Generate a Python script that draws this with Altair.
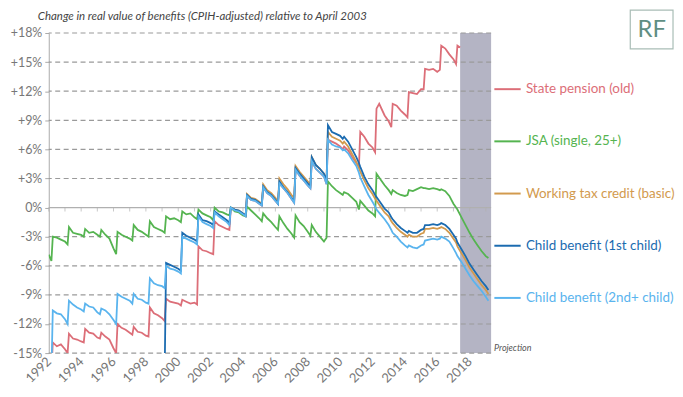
import altair as alt
import pandas as pd

series_names = ["State pension (old)", "JSA (single, 25+)", "Working tax credit (basic)",
                "Child benefit (1st child)", "Child benefit (2nd+ child)"]
series_colors = ["#dc6e78", "#55b450", "#d29a4e", "#1b6bb0", "#5ab4ee"]

pension_dates = ["1992-03", "1992-04", "1992-07", "1992-10", "1993-01", "1993-03",
                 "1993-04", "1993-07", "1993-10", "1994-01", "1994-03",
                 "1994-04", "1994-07", "1994-10", "1995-01", "1995-03",
                 "1995-04", "1995-07", "1995-10", "1996-01", "1996-03",
                 "1996-04", "1996-07", "1996-10", "1997-01", "1997-03",
                 "1997-04", "1997-07", "1997-10", "1998-01", "1998-03",
                 "1998-04", "1998-07", "1998-10", "1999-01", "1999-03",
                 "1999-04", "1999-07", "1999-10", "2000-01", "2000-03",
                 "2000-04", "2000-07", "2000-10", "2001-01", "2001-03",
                 "2001-04", "2001-07", "2001-10", "2002-01", "2002-03",
                 "2002-04", "2002-07", "2002-10", "2003-01", "2003-03",
                 "2003-04", "2003-07", "2003-10", "2004-01", "2004-03",
                 "2004-04", "2004-07", "2004-10", "2005-01", "2005-03",
                 "2005-04", "2005-07", "2005-10", "2006-01", "2006-03",
                 "2006-04", "2006-07", "2006-10", "2007-01", "2007-03",
                 "2007-04", "2007-07", "2007-10", "2008-01", "2008-03",
                 "2008-04", "2008-07", "2008-10", "2009-01", "2009-03",
                 "2009-04", "2009-07", "2009-10", "2010-01", "2010-03",
                 "2010-04", "2010-07", "2010-10", "2011-01", "2011-03",
                 "2011-04", "2011-07", "2011-10", "2012-01", "2012-03",
                 "2012-04", "2012-06", "2012-10", "2013-01", "2013-03",
                 "2013-04", "2013-07", "2013-10", "2014-01", "2014-03",
                 "2014-04", "2014-07", "2014-10", "2015-01", "2015-03",
                 "2015-04", "2015-07", "2015-10", "2016-01", "2016-03",
                 "2016-04", "2016-07", "2016-10", "2017-01", "2017-03",
                 "2017-04", "2017-06"]
pension_values = [-17.0, -13.9, -14.3, -14.1, -14.6, -15.0,
                  -13.0, -13.5, -13.6, -13.8, -13.9,
                  -12.5, -12.9, -13.0, -13.4, -13.5,
                  -12.9, -13.3, -13.6, -14.5, -15.0,
                  -12.0, -12.4, -12.6, -12.9, -13.1,
                  -12.3, -12.8, -12.9, -13.2, -13.3,
                  -10.3, -10.9, -11.1, -11.4, -11.7,
                  -9.4, -9.7, -9.8, -9.9, -10.1,
                  -9.5, -9.7, -9.9, -9.8, -10.0,
                  -4.0, -4.4, -4.5, -4.7, -4.8,
                  -1.4, -1.8, -2.0, -2.2, -2.3,
                  0.0, -0.3, -0.4, -0.7, -0.9,
                  1.2, 0.8, 0.7, 0.4, 0.2,
                  2.1, 1.5, 1.2, 0.7, 0.4,
                  2.5, 2.0, 1.5, 0.9, 0.5,
                  3.9, 3.3, 2.8, 2.3, 2.0,
                  4.8, 4.0, 3.6, 3.2, 2.4,
                  7.0, 6.8, 6.6, 6.3, 6.0,
                  6.3, 5.9, 5.2, 4.6, 4.2,
                  7.8, 7.3, 6.6, 6.2, 5.7,
                  10.2, 10.7, 9.5, 8.9, 8.3,
                  10.7, 10.5, 10.0, 9.6, 9.3,
                  11.9, 11.8, 11.7, 12.2, 12.2,
                  14.3, 14.2, 14.3, 14.0, 14.2,
                  16.7, 16.4, 15.8, 15.3, 14.8,
                  16.7, 16.5]

jsa_dates = ["1992-01", "1992-03",
             "1992-04", "1992-07", "1992-10", "1993-01", "1993-03",
             "1993-04", "1993-07", "1993-10", "1994-01", "1994-03",
             "1994-04", "1994-07", "1994-10", "1995-01", "1995-03",
             "1995-04", "1995-07", "1995-10", "1996-01", "1996-03",
             "1996-04", "1996-07", "1996-10", "1997-01", "1997-03",
             "1997-04", "1997-07", "1997-10", "1998-01", "1998-03",
             "1998-04", "1998-07", "1998-10", "1999-01", "1999-03",
             "1999-04", "1999-07", "1999-10", "2000-01", "2000-03",
             "2000-04", "2000-07", "2000-10", "2001-01", "2001-03",
             "2001-04", "2001-07", "2001-10", "2002-01", "2002-03",
             "2002-04", "2002-07", "2002-10", "2003-01", "2003-03",
             "2003-04", "2003-07", "2003-10", "2004-01", "2004-03",
             "2004-04", "2004-07", "2004-10", "2005-01", "2005-03",
             "2005-04", "2005-07", "2005-10", "2006-01", "2006-03",
             "2006-04", "2006-07", "2006-10", "2007-01", "2007-03",
             "2007-04", "2007-07", "2007-10", "2008-01", "2008-03",
             "2008-04", "2008-07", "2008-10", "2009-01", "2009-03",
             "2009-04", "2009-07", "2009-10", "2010-01", "2010-03",
             "2010-04", "2010-07", "2010-10", "2011-01", "2011-03",
             "2011-04", "2011-07", "2011-10", "2012-01", "2012-03",
             "2012-04", "2012-07", "2012-10", "2013-01", "2013-03",
             "2013-04", "2013-07", "2013-10", "2014-01", "2014-03",
             "2014-04", "2014-07", "2014-10", "2015-01", "2015-03",
             "2015-04", "2015-07", "2015-10", "2016-01", "2016-03",
             "2016-04", "2016-07", "2016-10", "2017-01", "2017-03",
             "2017-04", "2017-07", "2017-10", "2018-01", "2018-04",
             "2018-07", "2018-10", "2019-01", "2019-03"]
jsa_values = [-4.85, -5.5,
              -3.0, -3.1, -3.3, -3.5, -3.8,
              -2.0, -2.6, -2.7, -2.8, -3.0,
              -2.2, -2.6, -2.5, -2.8, -3.0,
              -2.3, -2.8, -3.2, -4.2, -4.8,
              -2.5, -2.8, -3.0, -3.2, -3.4,
              -1.8, -2.3, -2.5, -2.8, -3.0,
              -1.4, -2.0, -2.2, -2.4, -2.6,
              -0.9, -1.2, -1.1, -1.3, -1.5,
              -0.4, -0.7, -0.6, -1.0, -1.2,
              -0.2, -0.6, -0.8, -1.0, -1.3,
              0.0, -0.4, -0.5, -0.7, -0.8,
              0.0, -0.4, -0.5, -0.8, -0.9,
              0.1, -0.3, -0.7, -1.1, -1.4,
              -0.6, -1.1, -1.5, -2.0, -2.3,
              -0.9, -1.6, -2.2, -2.7, -3.1,
              -0.8, -1.5, -1.9, -2.5, -2.9,
              -1.8, -2.5, -3.0, -3.5, -3.1,
              2.7, 2.2, 1.8, 1.5, 1.3,
              1.6, 1.4, 1.0, 0.6, -0.2,
              0.7, 0.2, -0.3, -0.6, -0.9,
              3.5, 2.9, 2.3, 1.8, 1.4,
              1.8, 1.5, 1.3, 1.2, 1.3,
              1.8, 1.7, 1.9, 2.1, 2.0,
              2.0, 1.9, 2.0, 1.9, 1.8,
              1.9, 1.7, 1.2, 0.4, 0.0,
              -0.2, -1.0, -1.8, -2.6, -3.3,
              -3.9, -4.5, -5.0, -5.2]

wtc_dates = ["2003-04", "2003-07", "2003-10", "2004-01", "2004-03",
             "2004-04", "2004-07", "2004-10", "2005-01", "2005-03",
             "2005-04", "2005-07", "2005-10", "2006-01", "2006-03",
             "2006-04", "2006-07", "2006-10", "2007-01", "2007-03",
             "2007-04", "2007-07", "2007-10", "2008-01", "2008-03",
             "2008-04", "2008-07", "2008-10", "2009-01", "2009-03",
             "2009-04", "2009-07", "2009-10", "2010-01", "2010-03",
             "2010-04", "2010-07", "2010-10", "2011-01", "2011-03",
             "2011-04", "2011-07", "2011-10", "2012-01", "2012-03",
             "2012-04", "2012-07", "2012-10", "2013-01", "2013-03",
             "2013-04", "2013-07", "2013-10", "2014-01", "2014-03",
             "2014-04", "2014-07", "2014-10", "2015-01", "2015-03",
             "2015-04", "2015-07", "2015-10", "2016-01", "2016-03",
             "2016-04", "2016-07", "2016-10", "2017-01", "2017-03",
             "2017-04", "2017-07", "2017-10", "2018-01", "2018-04",
             "2018-07", "2018-10", "2019-01", "2019-03"]
wtc_values = [0.0, -0.2, -0.3, -0.6, -0.8,
              1.4, 1.0, 0.9, 0.6, 0.4,
              2.4, 1.8, 1.5, 1.0, 0.6,
              3.0, 2.4, 1.9, 1.3, 1.0,
              4.3, 3.7, 3.2, 2.7, 2.4,
              5.2, 4.4, 4.0, 3.5, 2.8,
              7.8, 7.3, 7.1, 6.9, 6.6,
              6.8, 6.3, 5.5, 4.7, 4.1,
              3.7, 2.8, 2.0, 1.4, 0.9,
              0.7, 0.1, -0.5, -0.9, -1.4,
              -1.6, -2.1, -2.5, -2.8, -3.0,
              -2.8, -3.0, -3.0, -2.7, -2.6,
              -2.2, -2.2, -2.1, -2.2, -2.1,
              -2.0, -2.2, -2.6, -3.2, -3.6,
              -4.0, -4.7, -5.4, -6.2, -6.8,
              -7.4, -8.0, -8.5, -8.9]

cb1_dates = ["1999-03",
             "1999-04", "1999-07", "1999-10", "2000-01", "2000-03",
             "2000-04", "2000-07", "2000-10", "2001-01", "2001-03",
             "2001-04", "2001-07", "2001-10", "2002-01", "2002-03",
             "2002-04", "2002-07", "2002-10", "2003-01", "2003-03"] + wtc_dates
cb1_values = [-17.0,
              -5.7, -5.9, -6.1, -6.3, -6.5,
              -2.6, -2.9, -3.1, -3.3, -3.5,
              -0.7, -1.3, -1.4, -1.6, -1.8,
              -0.4, -0.7, -1.0, -1.3, -1.6,
              0.0, -0.2, -0.3, -0.6, -0.8,
              1.3, 0.9, 0.8, 0.5, 0.3,
              2.2, 1.6, 1.3, 0.8, 0.4,
              2.7, 2.1, 1.6, 1.0, 0.7,
              4.1, 3.5, 3.0, 2.5, 2.2,
              5.2, 4.4, 4.0, 3.5, 2.8,
              8.5, 7.8, 7.6, 7.4, 7.1,
              7.3, 6.8, 6.0, 5.2, 4.6,
              4.2, 3.2, 2.4, 1.8, 1.3,
              1.1, 0.5, -0.1, -0.5, -1.0,
              -1.2, -1.7, -2.1, -2.4, -2.6,
              -2.4, -2.6, -2.6, -2.3, -2.2,
              -1.8, -1.8, -1.7, -1.8, -1.7,
              -1.6, -1.8, -2.2, -2.8, -3.2,
              -3.6, -4.3, -5.0, -5.8, -6.4,
              -7.0, -7.6, -8.1, -8.5]

cb2_dates = ["1992-03"] + pension_dates[1:56] + wtc_dates
cb2_values = [-17.0,
              -10.6, -10.9, -11.0, -11.5, -12.0,
              -9.6, -10.0, -10.3, -10.5, -10.7,
              -9.9, -10.2, -10.3, -10.8, -11.0,
              -10.4, -10.6, -11.0, -11.6, -12.0,
              -8.9, -9.2, -9.4, -9.6, -9.9,
              -8.9, -9.4, -9.5, -9.8, -9.9,
              -7.3, -7.8, -8.0, -8.1, -8.3,
              -6.0, -6.3, -6.4, -6.6, -6.8,
              -3.0, -3.2, -3.4, -3.6, -3.8,
              -0.9, -1.5, -1.7, -1.9, -2.1,
              -0.5, -0.9, -1.2, -1.5, -1.8,
              0.0, -0.3, -0.4, -0.7, -0.9,
              1.2, 0.8, 0.7, 0.4, 0.2,
              2.1, 1.5, 1.2, 0.7, 0.4,
              2.5, 2.0, 1.5, 0.9, 0.5,
              3.9, 3.3, 2.8, 2.3, 2.0,
              4.8, 4.0, 3.6, 3.2, 2.4,
              7.0, 6.5, 6.3, 6.2, 5.9,
              6.0, 5.6, 4.9, 4.3, 3.6,
              3.1, 2.2, 1.3, 0.6, 0.1,
              -0.2, -0.7, -1.2, -1.8, -2.3,
              -2.6, -3.0, -3.5, -3.9, -4.1,
              -3.9, -4.1, -4.2, -3.9, -3.8,
              -3.4, -3.3, -3.2, -3.3, -3.2,
              -3.0, -3.2, -3.5, -4.2, -4.7,
              -5.0, -5.6, -6.3, -7.0, -7.6,
              -8.1, -8.6, -9.2, -9.6]

y_ticks = [18, 15, 12, 9, 6, 3, 0, -3, -6, -9, -12, -15]
x_years = list(range(1992, 2020))
projection_start = "2017-06-01"
axis_end = "2019-05-01"
title_text = "Change in real value of benefits (CPIH-adjusted) relative to April 2003"

rows = []
for name, dates, vals in zip(series_names,
                             [pension_dates, jsa_dates, wtc_dates, cb1_dates, cb2_dates],
                             [pension_values, jsa_values, wtc_values, cb1_values, cb2_values]):
    assert len(dates) == len(vals), name
    for d, v in zip(dates, vals):
        rows.append({"series": name, "date": d + "-01", "value": v})
df = pd.DataFrame(rows)

W, H = 445, 322
FONT = "Lato"

x_scale = alt.Scale(domain=[alt.DateTime(year=1992, month=1, date=1),
                            alt.DateTime(year=2019, month=5, date=1)], nice=False)
y_scale = alt.Scale(domain=[-15, 18], nice=False)

x_axis = alt.Axis(title=None, values=[alt.DateTime(year=y, month=1, date=1) for y in x_years],
                  labelExpr="year(datum.value) % 2 == 0 ? timeFormat(datum.value, '%Y') : ''",
                  labelAngle=315, labelAlign="right", labelBaseline="middle",
                  labelOverlap=False, labelBound=False, labelFlush=False,
                  ticks=False, domain=False, grid=False, labelPadding=6,
                  labelFont=FONT, labelFontSize=13, labelColor="#777777")
y_axis = alt.Axis(title=None, values=y_ticks, grid=False, labelOverlap=False,
                  labelExpr="datum.value > 0 ? '+' + datum.value + '%' : datum.value + '%'",
                  domainColor="#aaaaaa", tickColor="#aaaaaa", tickSize=4,
                  labelFont=FONT, labelFontSize=12.5, labelColor="#777777", labelPadding=3)

label_expr = " : ".join(f"datum.label == '{n}' ? '{c}'" for n, c in zip(series_names[:-1], series_colors[:-1])) + f" : '{series_colors[-1]}'"

proj = alt.Chart(pd.DataFrame({"start": [projection_start], "end": [axis_end]})).mark_rect(
    color="#b4b4c4").encode(
    x=alt.X("start:T", scale=x_scale, axis=x_axis),
    x2="end:T",
    y=alt.value(0), y2=alt.value(H))

grid = alt.Chart(pd.DataFrame({"v": [t for t in y_ticks if t != 0]})).mark_rule(
    color="#9a9a9a", strokeDash=[5, 3.5], strokeWidth=1.2).encode(
    y=alt.Y("v:Q", scale=y_scale, axis=y_axis))

zero = alt.Chart(pd.DataFrame({"v": [0]})).mark_rule(color="#b0b0b0", strokeWidth=1.3).encode(
    y=alt.Y("v:Q", scale=y_scale, axis=y_axis))

year_ticks = alt.Chart(pd.DataFrame({"d": [f"{y}-01-01" for y in x_years], "v": [0] * len(x_years)})).mark_tick(
    orient="vertical", size=4, thickness=1, yOffset=2, color="#b0b0b0").encode(
    x=alt.X("d:T", scale=x_scale, axis=x_axis), y=alt.Y("v:Q", scale=y_scale, axis=y_axis))

lines = alt.Chart(df).mark_line(strokeWidth=1.8, clip=True).encode(
    x=alt.X("date:T", scale=x_scale, axis=x_axis),
    y=alt.Y("value:Q", scale=y_scale, axis=y_axis),
    color=alt.Color("series:N",
                    scale=alt.Scale(domain=series_names, range=series_colors),
                    legend=alt.Legend(title=None, orient="none", legendX=447, legendY=42,
                                      symbolType="stroke", symbolSize=700, symbolStrokeWidth=2,
                                      labelFont=FONT, labelFontSize=13.5, labelOffset=4,
                                      rowPadding=31.5, padding=0,
                                      labelColor=alt.ExprRef(expr=label_expr))),
    detail="series:N")

proj_text = alt.Chart(pd.DataFrame({"t": ["Projection"]})).mark_text(
    align="left", baseline="middle", font=FONT, fontSize=9, fontStyle="italic", color="#555555").encode(
    text="t:N", x=alt.value(W + 3), y=alt.value(H - 5))

title_mark = alt.Chart(pd.DataFrame({"t": [title_text]})).mark_text(
    align="left", baseline="middle", font=FONT, fontSize=11.5, fontStyle="italic", color="#444444").encode(
    text="t:N", x=alt.value(-11), y=alt.value(-16))

logo_box = alt.Chart(pd.DataFrame({"t": ["RF"]})).mark_rect(
    fill="white", stroke="#a9bdb6", strokeWidth=1.2).encode(
    x=alt.value(585), x2=alt.value(628), y=alt.value(-23), y2=alt.value(16))
logo_text = alt.Chart(pd.DataFrame({"t": ["RF"]})).mark_text(
    font=FONT, fontSize=24, color="#5f8f84", align="center", baseline="middle").encode(
    text="t:N", x=alt.value(606.5), y=alt.value(-3))

chart = alt.layer(proj, grid, zero, year_ticks, lines, proj_text, title_mark, logo_box, logo_text).properties(
    width=W, height=H,
    autosize=alt.AutoSizeParams(type="none"),
    padding={"left": 41, "top": 24, "right": 185, "bottom": 40}
).configure_view(stroke=None)

chart.save("out.html", embed_options={"renderer": "svg", "actions": False})
